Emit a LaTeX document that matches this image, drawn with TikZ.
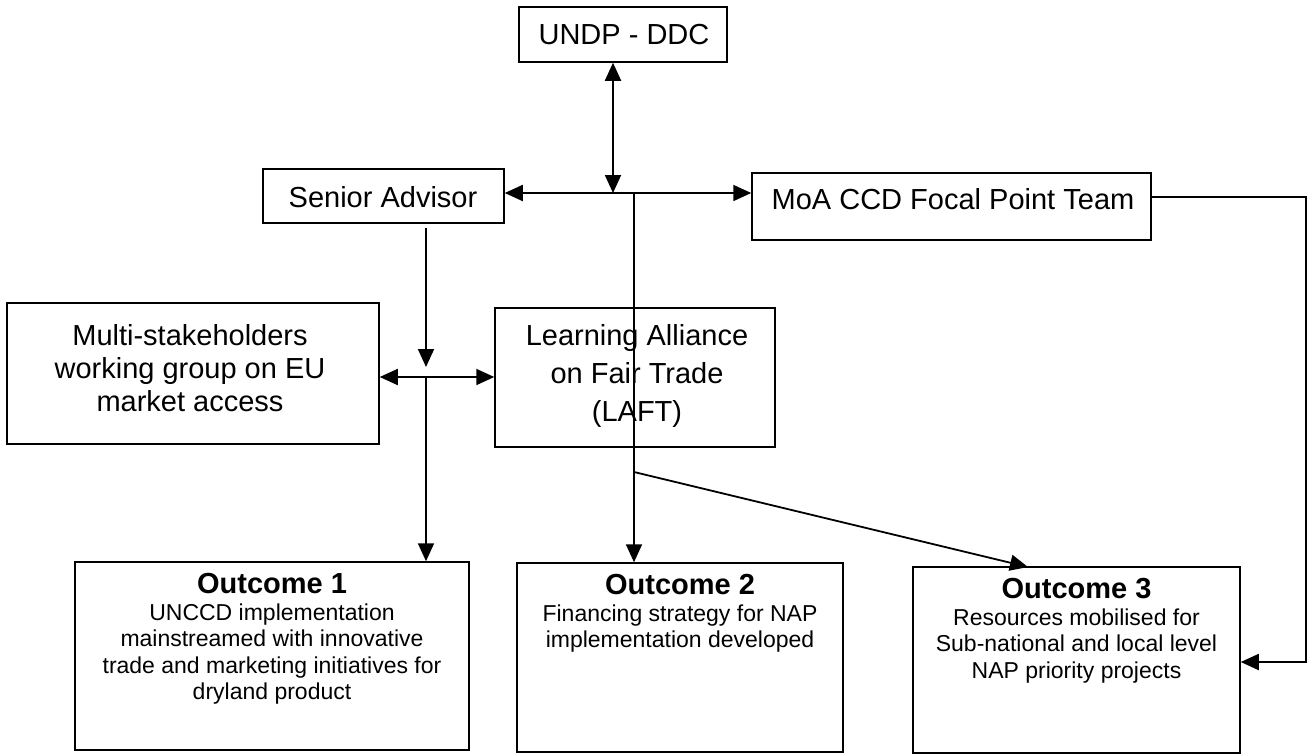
\documentclass[tikz,border=0pt]{standalone}
\usepackage{fontspec}
\setmainfont{Liberation Sans}
\usetikzlibrary{
    arrows.meta,
    calc,
    positioning
}

\tikzset{
    box/.style={draw, line width=1.5pt, inner sep=0pt},
    lbl/.style={inner sep=0pt, align=center, font=\fontsize{29}{33}\selectfont},
    otext/.style={inner sep=0pt, align=center, font=\fontsize{23}{26.5}\selectfont},
    link/.style={line width=1.8pt, -{Triangle[length=18pt,width=16pt]}},
    dlink/.style={line width=1.8pt, {Triangle[length=18pt,width=16pt]}-{Triangle[length=18pt,width=16pt]}}
}
\newcommand{\ohead}[1]{{\bfseries\fontsize{29}{27}\selectfont #1}}

\begin{document}
\begin{tikzpicture}[x=1pt,y=-1pt]

\useasboundingbox (0,0) rectangle (1309,755);

% Top box
\node[box, minimum width=208pt, minimum height=55pt] (undp) at (623,34.5) {};
\node[lbl] (undpt) at (624,35) {UNDP - DDC};

% Senior advisor
\node[box, minimum width=241pt, minimum height=54pt] (sa) at (383.5,196) {};
\node[lbl] (sat) at (383,197) {Senior Advisor};

% Focal point team
\node[box, minimum width=399pt, minimum height=67pt] (moa) at (951.5,206.5) {};
\node[lbl] (moat) at (953,199) {MoA CCD Focal Point Team};

% Working group
\node[box, minimum width=372pt, minimum height=141pt] (msw) at (193,373.5) {};
\node[lbl] (mswt) at (190,368) {Multi-stakeholders\\working group on EU\\market access};

% Learning alliance
\node[box, minimum width=280pt, minimum height=139pt] (laft) at (635,377.5) {};
\node[lbl, font=\fontsize{29}{38}\selectfont] (laftt) at (637,376) {Learning Alliance\\on Fair Trade\\(LAFT)};

% Outcomes
\node[box, minimum width=394pt, minimum height=188pt] (o1) at (272,656) {};
\node[otext, below=12pt of o1.north] (o1t) {\ohead{Outcome 1}\\UNCCD implementation\\mainstreamed with innovative\\trade and marketing initiatives for\\dryland product};

\node[box, minimum width=326pt, minimum height=189pt] (o2) at (680,657.5) {};
\node[otext, below=12pt of o2.north] (o2t) {\ohead{Outcome 2}\\Financing strategy for NAP\\implementation developed};

\node[box, minimum width=327pt, minimum height=186pt] (o3) at (1076.5,660) {};
\node[otext, below=12pt of o3.north] (o3t) {\ohead{Outcome 3}\\Resources mobilised for\\Sub-national and local level\\NAP priority projects};

% Junctions
\coordinate (hub) at (613,193);
\coordinate (col) at (634,193);
\coordinate (fork) at (634,472);
\coordinate (sadown) at (426,228);
\coordinate (hub2) at (426,377);
\coordinate (edge) at (1306,197);

% UNDP link
\draw[dlink] (undp.south -| hub) -- (hub);

% Advisor / focal point line
\draw[dlink] (sa.east |- hub) -- (moa.west |- hub);

% Down to outcome 2 and 3
\draw[link] (col) -- (col |- o2.north);
\draw[link] (fork) -- (1028,567);

% Advisor down
\draw[link] (sadown) -- (426,367);
\draw[dlink] (msw.east |- hub2) -- (laft.west |- hub2);
\draw[link] (hub2) -- (hub2 |- o1.north);

% Focal point to outcome 3
\draw[link] (moa.east |- edge) -- (edge) -- (1306,662) -- (o3.east |- 0,662);

\end{tikzpicture}
\end{document}
